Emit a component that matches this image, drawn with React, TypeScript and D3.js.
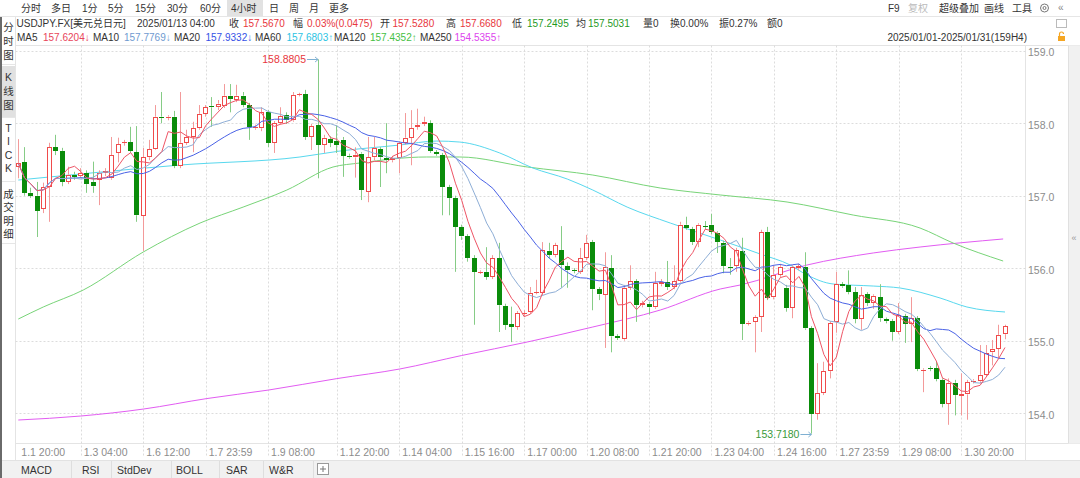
import React from 'react';
import * as d3 from 'd3';

// ---- candle data (4H, USDJPY) ----
const openP = [
  157.40, 157.46, 157.04, 157.00, 156.82, 157.12, 157.67, 157.62, 157.19, 157.29,
  157.27, 157.31, 157.19, 157.22, 157.31, 157.24, 157.59, 157.73, 157.74, 157.60,
  156.72, 157.53, 157.64, 158.09, 158.07, 158.09, 157.41, 157.73, 157.81, 157.93,
  158.13, 158.24, 158.22, 158.24, 158.38, 158.32, 158.38, 158.25, 157.93, 157.93,
  158.15, 157.73, 158.00, 158.11, 158.04, 158.39, 158.40, 157.81, 157.97, 157.70,
  157.78, 157.75, 157.77, 157.55, 157.528, 157.58, 157.05, 157.53, 157.64, 157.52,
  157.49, 157.52, 157.73, 157.80, 157.95, 157.99, 158.00, 157.60, 157.56, 157.12,
  156.97, 156.57, 156.44, 156.14, 155.94, 155.95, 155.88, 156.14, 155.48, 155.23,
  155.19, 155.37, 155.40, 155.66, 155.66, 156.24, 156.18, 156.25, 156.03, 155.97,
  155.95, 156.14, 156.36, 155.71, 155.63, 156.00, 155.06, 155.02, 155.73, 155.82,
  155.49, 155.51, 155.46, 155.78, 155.81, 155.74, 155.82, 156.60, 156.54, 156.36,
  156.58, 156.60, 156.49, 156.35, 156.02, 156.03, 156.24, 155.23, 155.26, 155.33,
  156.50, 155.60, 155.91, 155.73, 155.45, 156.00, 156.02, 155.17, 153.99, 154.28,
  154.58, 155.26, 155.78, 155.77, 155.67, 155.30, 155.64, 155.52, 155.60, 155.30,
  155.27, 155.12, 155.34, 155.23, 155.31, 154.59, 154.62, 154.62, 154.46, 154.13,
  154.42, 154.24, 154.26, 154.43, 154.44, 154.53, 154.84, 154.89, 155.09,
];
const highP = [
  157.78, 157.67, 157.11, 157.19, 157.18, 157.73, 157.84, 157.66, 157.40, 157.33,
  157.38, 157.35, 157.47, 157.35, 157.38, 157.81, 157.80, 157.77, 157.95, 157.96,
  157.66, 157.77, 158.25, 158.43, 158.11, 158.17, 158.43, 157.91, 158.02, 158.25,
  158.25, 158.36, 158.32, 158.54, 158.54, 158.53, 158.43, 158.28, 157.98, 158.22,
  158.18, 158.03, 158.22, 158.15, 158.43, 158.42, 158.46, 157.99, 158.8805, 157.84,
  157.82, 157.97, 157.81, 157.58, 157.668, 157.60, 157.81, 157.81, 157.67, 158.00,
  157.55, 157.75, 158.14, 158.18, 158.20, 158.09, 158.04, 157.63, 157.59, 157.15,
  157.00, 156.60, 156.47, 156.18, 155.97, 156.29, 156.18, 156.35, 155.51, 155.47,
  155.41, 155.42, 155.74, 155.84, 156.36, 156.35, 156.35, 156.58, 156.08, 156.00,
  156.28, 156.46, 156.39, 155.74, 156.22, 156.18, 155.09, 155.77, 156.04, 155.85,
  155.55, 155.53, 155.95, 155.85, 156.10, 156.04, 156.64, 156.71, 156.57, 156.62,
  156.65, 156.75, 156.51, 156.38, 156.14, 156.28, 156.42, 155.27, 155.35, 156.53,
  156.57, 156.04, 156.06, 155.77, 156.04, 156.06, 156.22, 155.20, 154.69, 154.71,
  155.27, 155.95, 155.81, 155.97, 155.74, 155.74, 155.67, 155.64, 155.78, 155.32,
  155.30, 155.52, 155.37, 155.60, 155.34, 154.62, 154.65, 154.71, 154.48, 154.48,
  154.46, 154.55, 154.46, 154.47, 154.94, 154.94, 155.01, 155.22, 155.22,
];
const lowP = [
  157.24, 157.00, 156.97, 156.43, 156.76, 156.64, 157.56, 157.13, 157.16, 157.22,
  157.24, 157.04, 157.04, 156.87, 157.27, 157.22, 157.46, 157.69, 157.59, 156.64,
  156.24, 157.49, 157.63, 158.00, 158.04, 157.38, 157.38, 157.70, 157.60, 157.91,
  158.09, 157.95, 158.18, 158.21, 158.15, 158.29, 158.22, 157.77, 157.91, 157.89,
  157.67, 157.59, 157.98, 157.99, 158.02, 158.37, 157.77, 157.63, 157.24, 157.59,
  157.67, 157.59, 157.26, 157.51, 157.2495, 156.94, 156.91, 157.49, 157.12, 157.31,
  157.46, 157.31, 157.70, 157.42, 157.91, 157.96, 157.59, 157.55, 156.73, 156.73,
  155.95, 156.39, 156.09, 155.22, 155.92, 155.84, 155.85, 155.12, 155.15, 154.98,
  155.15, 155.34, 155.37, 155.64, 155.63, 156.14, 156.15, 155.73, 155.73, 155.93,
  155.92, 156.11, 155.42, 155.56, 154.90, 154.84, 155.01, 155.00, 155.70, 155.26,
  155.46, 155.36, 155.44, 155.75, 155.70, 155.71, 155.80, 156.53, 156.32, 156.29,
  156.53, 156.47, 156.21, 155.93, 155.91, 155.95, 155.01, 155.21, 154.84, 155.12,
  155.56, 155.57, 155.88, 155.40, 155.31, 155.97, 155.15, 153.718, 153.91, 154.25,
  154.48, 155.11, 155.73, 155.64, 155.24, 155.15, 155.48, 155.44, 155.26, 155.24,
  155.00, 155.09, 154.97, 154.98, 154.58, 154.29, 154.58, 154.44, 154.08, 153.84,
  153.97, 153.97, 153.91, 154.41, 154.41, 154.50, 154.66, 154.76, 155.02,
];
const closeP = [
  157.45, 157.04, 157.00, 156.79, 157.12, 157.67, 157.62, 157.19, 157.29, 157.26,
  157.31, 157.16, 157.13, 157.31, 157.34, 157.56, 157.71, 157.74, 157.62, 156.73,
  157.53, 157.64, 158.09, 158.07, 158.09, 157.41, 157.73, 157.81, 157.93, 158.13,
  158.22, 158.22, 158.27, 158.38, 158.33, 158.38, 158.25, 157.95, 157.95, 158.15,
  157.73, 158.00, 158.10, 158.04, 158.39, 158.40, 157.81, 157.96, 157.70, 157.80,
  157.73, 157.70, 157.55, 157.53, 157.567, 157.08, 157.53, 157.66, 157.53, 157.49,
  157.52, 157.73, 157.80, 157.93, 157.97, 158.02, 157.62, 157.58, 157.12, 156.97,
  156.57, 156.44, 156.14, 155.95, 155.95, 155.88, 156.14, 155.49, 155.22, 155.19,
  155.38, 155.38, 155.66, 155.67, 156.25, 156.18, 156.32, 156.04, 155.97, 155.96,
  156.14, 156.35, 155.71, 155.64, 156.02, 155.06, 155.04, 155.73, 155.82, 155.49,
  155.52, 155.46, 155.80, 155.81, 155.74, 155.82, 156.60, 156.56, 156.36, 156.60,
  156.57, 156.50, 156.36, 156.03, 156.01, 156.25, 155.23, 155.25, 155.33, 156.50,
  155.59, 155.91, 156.02, 155.45, 156.02, 156.03, 155.17, 153.99, 154.28, 154.58,
  155.24, 155.78, 155.75, 155.67, 155.30, 155.63, 155.52, 155.62, 155.31, 155.27,
  155.12, 155.35, 155.23, 155.31, 154.61, 154.60, 154.61, 154.47, 154.13, 154.42,
  154.25, 154.26, 154.43, 154.45, 154.53, 154.83, 154.89, 155.08, 155.20,
];

// ---- long moving averages (candle index, value) ----
const ma60Idx = [0, 9.9, 25.9, 45.1, 51.5, 61.1, 67, 70.7, 77.1, 82.4, 87.9, 92, 97.5, 104.4, 112.4, 118.8, 123.6, 126.3, 130.5, 136.9, 141.2, 147.6, 151.9, 158];
const ma60Val = [157.216, 157.299, 157.423, 157.534, 157.616, 157.699, 157.754, 157.74, 157.589, 157.382, 157.23, 157.078, 156.843, 156.623, 156.389, 156.196, 156.044, 155.906, 155.782, 155.754, 155.727, 155.589, 155.465, 155.396];
const ma120Idx = [0, 4, 10.4, 20, 29.1, 36, 43, 50.4, 54.7, 65.4, 70.7, 81.5, 92, 102.8, 112.4, 123.1, 133.7, 144.4, 149.7, 157.7];
const ma120Val = [155.299, 155.465, 155.699, 156.223, 156.623, 156.843, 157.078, 157.396, 157.451, 157.534, 157.534, 157.396, 157.285, 157.106, 157.01, 156.913, 156.733, 156.554, 156.347, 156.099];
const ma250Idx = [0, 10, 20.1, 30.2, 40.1, 51, 61.1, 71, 81.5, 92, 102.8, 112.4, 115.6, 126.3, 136.9, 144.4, 157.7];
const ma250Val = [153.906, 153.961, 154.058, 154.202, 154.32, 154.477, 154.61, 154.796, 154.982, 155.189, 155.423, 155.713, 155.768, 156.044, 156.21, 156.292, 156.403];

// ---- axes ----
const yTicks = [154, 155, 156, 157, 158, 159];
const xTickIdx = [0, 10, 20, 30, 40, 51, 61, 71, 81, 91, 101, 111, 121, 131, 141, 151];
const xTickLabels = ['1.1 20:00', '1.3 04:00', '1.6 12:00', '1.7 23:59', '1.9 08:00', '1.12 20:00', '1.14 04:00', '1.15 16:00', '1.17 00:00', '1.20 08:00', '1.21 20:00', '1.23 04:00', '1.24 16:00', '1.27 23:59', '1.29 08:00', '1.30 20:00'];

const periodTabs = ['分时', '多日', '1分', '5分', '15分', '30分', '60分', '4小时', '日', '周', '月', '更多'];
const periodTabX = [21, 51, 82, 108, 135, 167, 200, 231, 269, 289, 309, 329];
const bottomTabs = ['MACD', 'RSI', 'StdDev', 'BOLL', 'SAR', 'W&R'];
const bottomTabX = [21, 82, 117, 176, 226, 269];
const bottomSepX = [71, 111, 171, 219, 263, 313];

const RED = '#e8373d';
const GREEN = '#1f9a1f';
const FONT = '"Liberation Sans", "Noto Sans CJK SC", sans-serif';

export default function App() {
  const W = 1080, H = 478;
  const plotL = 15.5, plotR = 1025.5, plotT = 45.5, plotB = 443.5;
  const x = d3.scaleLinear().domain([0, 158]).range([18.3, 1005]);
  const y = d3.scaleLinear().domain([154, 159]).range([413.2, 50.7]);

  const sma = (n: number) => closeP.map((_, i) => d3.mean(closeP.slice(Math.max(0, i - n + 1), i + 1)) as number);
  const ma5 = sma(5), ma10 = sma(10), ma20 = sma(20);
  const shortLine = d3.line<number>().x((_, i) => x(i)).y((v) => y(v));
  const longLine = d3.line<[number, number]>().x((d) => x(d[0])).y((d) => y(d[1])).curve(d3.curveMonotoneX);
  const pairs = (a: number[], b: number[]) => a.map((v, i) => [v, b[i]] as [number, number]);

  const hiIdx = highP.indexOf(d3.max(highP) as number);
  const loIdx = lowP.indexOf(d3.min(lowP) as number);

  const T = (props: any) => <text fontFamily={FONT} fontSize={10} dominantBaseline="central" fill="#333" {...props} />;

  const row2: [string, number, string][] = [
    ['USDJPY.FX[美元兑日元]', 16.5, '#333'], ['2025/01/13 04:00', 137, '#333'],
    ['收', 229, '#333'], ['157.5670', 243, RED], ['幅', 293, '#333'], ['0.03%(0.0475)', 307, RED],
    ['开', 380, '#333'], ['157.5280', 392.5, RED], ['高', 446, '#333'], ['157.6680', 460, RED],
    ['低', 512, '#333'], ['157.2495', 527, GREEN], ['均', 576, '#333'], ['157.5031', 588, GREEN],
    ['量0', 643, '#333'], ['换0.00%', 670, '#333'], ['振0.27%', 719, '#333'], ['额0', 767, '#333'],
  ];
  const row3: [string, number, string][] = [
    ['MA5', 17, '#333'], ['157.6204↓', 43, '#e8455a'], ['MA10', 93, '#333'], ['157.7769↓', 124, '#6f9ad0'],
    ['MA20', 174, '#333'], ['157.9332↓', 205.5, '#3552e6'], ['MA60', 255, '#333'], ['157.6803↑', 286.5, '#2cc3e3'],
    ['MA120', 334, '#333'], ['157.4352↑', 370, '#45c045'], ['MA250', 420, '#333'], ['154.5355↑', 454.5, '#dd44ee'],
  ];

  return (
    <svg width={W} height={H} style={{ position: 'absolute', left: 0, top: 0, background: '#fff' }}>
      <rect x={0} y={0} width={W} height={H} fill="#fff" />
      {/* header row 1 */}
      <rect x={227} y={0} width={36} height={16} fill="#e2e2e2" />
      {periodTabs.map((t, i) => (
        <T key={t} x={periodTabX[i]} y={8}>{t}</T>
      ))}
      <line x1={0} x2={W} y1={16.5} y2={16.5} stroke="#e6e6e6" />
      <T x={888} y={8}>F9</T>
      <T x={908} y={8} fill="#bbb">复权</T>
      <T x={939} y={8}>超级叠加</T>
      <T x={984} y={8}>画线</T>
      <T x={1012} y={8}>工具</T>
      <circle cx={1044.5} cy={8} r={4} fill="none" stroke="#777" />
      <circle cx={1044.5} cy={8} r={1.5} fill="none" stroke="#777" />
      <T x={1058} y={7.5} fill="#888">«</T>

      {/* header row 2 & 3 */}
      {row2.map(([t, xx, c], i) => (
        <T key={'r2' + i} x={xx} y={23} fill={c}>{t}</T>
      ))}
      <rect x={1056.5} y={19.5} width={10} height={8} fill="#fff" stroke="#bbb" />
      {row3.map(([t, xx, c], i) => (
        <T key={'r3' + i} x={xx} y={37.5} fill={c}>{t}</T>
      ))}
      <T x={1027} y={37.5} textAnchor="end">2025/01/01-2025/01/31(159H4)</T>
      <rect x={1058} y={36} width={7} height={5} fill="#f5a623" />
      <path d="M1059.5,36 v-2 a2,2 0 0 1 4,0" fill="none" stroke="#f5a623" strokeWidth={1.2} />

      {/* left column */}
      <rect x={0} y={17} width={2} height={H - 17} fill="#6a6a6a" />
      <rect x={2} y={66} width={13} height={51} fill="#e1e1e1" />
      {['分', '时', '图'].map((c, i) => <T key={'a' + i} x={8.5} y={27 + i * 14} textAnchor="middle" fontSize={10.5}>{c}</T>)}
      {['K', '线', '图'].map((c, i) => <T key={'b' + i} x={8.5} y={77 + i * 14} textAnchor="middle" fontSize={10.5}>{c}</T>)}
      {['T', 'I', 'C', 'K'].map((c, i) => <T key={'c' + i} x={8.5} y={128 + i * 13.4} textAnchor="middle" fontSize={10.5}>{c}</T>)}
      {['成', '交', '明', '细'].map((c, i) => <T key={'d' + i} x={8.5} y={194 + i * 13.3} textAnchor="middle" fontSize={10.5}>{c}</T>)}
      {[64.5, 117.5, 181.5, 243.5].map((yy) => <line key={yy} x1={2} x2={15} y1={yy} y2={yy} stroke="#e6e6e6" />)}

      {/* plot frame */}
      <line x1={plotL} x2={W} y1={plotT} y2={plotT} stroke="#e4e4e4" />
      <line x1={plotL} x2={W} y1={plotB} y2={plotB} stroke="#e4e4e4" />
      <line x1={plotL} x2={plotL} y1={17} y2={460} stroke="#e4e4e4" />
      <line x1={plotR} x2={plotR} y1={plotT} y2={460} stroke="#e4e4e4" />
      <rect x={1068} y={plotT} width={12} height={plotB - plotT} fill="#f1f1f1" />
      <line x1={1068.5} x2={1068.5} y1={plotT} y2={plotB} stroke="#e0e0e0" />
      <T x={1074} y={238} textAnchor="middle" fill="#999" fontSize={9}>«</T>

      {/* grid */}
      {yTicks.map((t) => (
        <g key={'yt' + t}>
          <line x1={plotL} x2={plotR} y1={Math.round(y(t)) + 0.5} y2={Math.round(y(t)) + 0.5} stroke="#dcdcdc" strokeDasharray="2,2" />
          <T x={1028} y={y(t) + 1.5} fill="#8c8c8c" fontSize={10.5}>{t.toFixed(1)}</T>
        </g>
      ))}
      {xTickIdx.map((ti, k) => (
        <g key={'xt' + k}>
          {k > 0 && (
            <line x1={Math.round(x(ti)) + 0.5} x2={Math.round(x(ti)) + 0.5} y1={plotT} y2={457} stroke="#dcdcdc" strokeDasharray="2,2" />
          )}
          <T x={x(ti) + 3} y={451.5} fill="#8c8c8c" fontSize={10.5}>{xTickLabels[k]}</T>
        </g>
      ))}

      {/* long MAs */}
      <path d={longLine(pairs(ma250Idx, ma250Val)) || ''} fill="none" stroke="#e25cf2" strokeWidth={1} />
      <path d={longLine(pairs(ma120Idx, ma120Val)) || ''} fill="none" stroke="#78d478" strokeWidth={1} />
      <path d={longLine(pairs(ma60Idx, ma60Val)) || ''} fill="none" stroke="#58d8ee" strokeWidth={1} />

      {/* candles */}
      {closeP.map((c, i) => {
        const o = openP[i], h = highP[i], l = lowP[i];
        const up = c >= o;
        const L = Math.round(x(i) - 2.5);
        const wx = L + 2.5;
        const yTop = y(Math.max(o, c)), yBot = y(Math.min(o, c));
        const wick = up ? '#f39a9a' : '#86cc86';
        const body = up ? '#f04b4b' : '#0a8c0a';
        const rt = Math.round(yTop), rb = Math.round(yBot);
        return (
          <g key={'k' + i}>
            <line x1={wx} x2={wx} y1={y(h)} y2={yTop} stroke={wick} />
            <line x1={wx} x2={wx} y1={yBot} y2={y(l)} stroke={wick} />
            {up ? (
              rb - rt >= 2 ? (
                <rect x={L + 0.5} y={rt + 0.5} width={4} height={rb - rt - 1} fill="#fff" stroke={body} />
              ) : (
                <line x1={L} x2={L + 5} y1={rt + 0.5} y2={rt + 0.5} stroke={body} />
              )
            ) : (
              <rect x={L} y={rt} width={5} height={Math.max(1, rb - rt)} fill={body} />
            )}
          </g>
        );
      })}

      {/* short MAs */}
      <path d={shortLine(ma20) || ''} fill="none" stroke="#4a62e6" strokeWidth={1} />
      <path d={shortLine(ma10) || ''} fill="none" stroke="#8eaed6" strokeWidth={1} />
      <path d={shortLine(ma5) || ''} fill="none" stroke="#ee5566" strokeWidth={1} />

      {/* extreme labels */}
      <T x={x(hiIdx) - 12} y={y(highP[hiIdx])} textAnchor="end" fill={RED} fontSize={10.5}>{highP[hiIdx].toFixed(4)}</T>
      <line x1={x(hiIdx) - 11} x2={x(hiIdx)} y1={Math.round(y(highP[hiIdx])) + 0.5} y2={Math.round(y(highP[hiIdx])) + 0.5} stroke="#7fb0d2" />
      <path d={`M${x(hiIdx) - 3},${Math.round(y(highP[hiIdx])) - 2} L${x(hiIdx)},${Math.round(y(highP[hiIdx])) + 0.5} L${x(hiIdx) - 3},${Math.round(y(highP[hiIdx])) + 3}`} fill="none" stroke="#7fb0d2" />
      <T x={x(loIdx) - 12} y={y(lowP[loIdx])} textAnchor="end" fill="#3a9a3a" fontSize={10.5}>{lowP[loIdx].toFixed(4)}</T>
      <line x1={x(loIdx) - 11} x2={x(loIdx)} y1={Math.round(y(lowP[loIdx])) + 0.5} y2={Math.round(y(lowP[loIdx])) + 0.5} stroke="#7fb0d2" />
      <path d={`M${x(loIdx) - 3},${Math.round(y(lowP[loIdx])) - 2} L${x(loIdx)},${Math.round(y(lowP[loIdx])) + 0.5} L${x(loIdx) - 3},${Math.round(y(lowP[loIdx])) + 3}`} fill="none" stroke="#7fb0d2" />

      {/* bottom tabs */}
      <rect x={2} y={460} width={W - 2} height={18} fill="#f1f1f1" />
      <line x1={2} x2={W} y1={460.5} y2={460.5} stroke="#e2e2e2" />
      {bottomTabs.map((t, i) => <T key={'bt' + i} x={bottomTabX[i]} y={469.5} fontSize={10.5}>{t}</T>)}
      {bottomSepX.map((sx) => <line key={'bs' + sx} x1={sx + 0.5} x2={sx + 0.5} y1={461} y2={478} stroke="#dedede" />)}
      <rect x={317.5} y={463.5} width={11} height={11} fill="#fff" stroke="#999" />
      <line x1={320} x2={326} y1={469} y2={469} stroke="#777" />
      <line x1={323} x2={323} y1={466} y2={472} stroke="#777" />
    </svg>
  );
}
